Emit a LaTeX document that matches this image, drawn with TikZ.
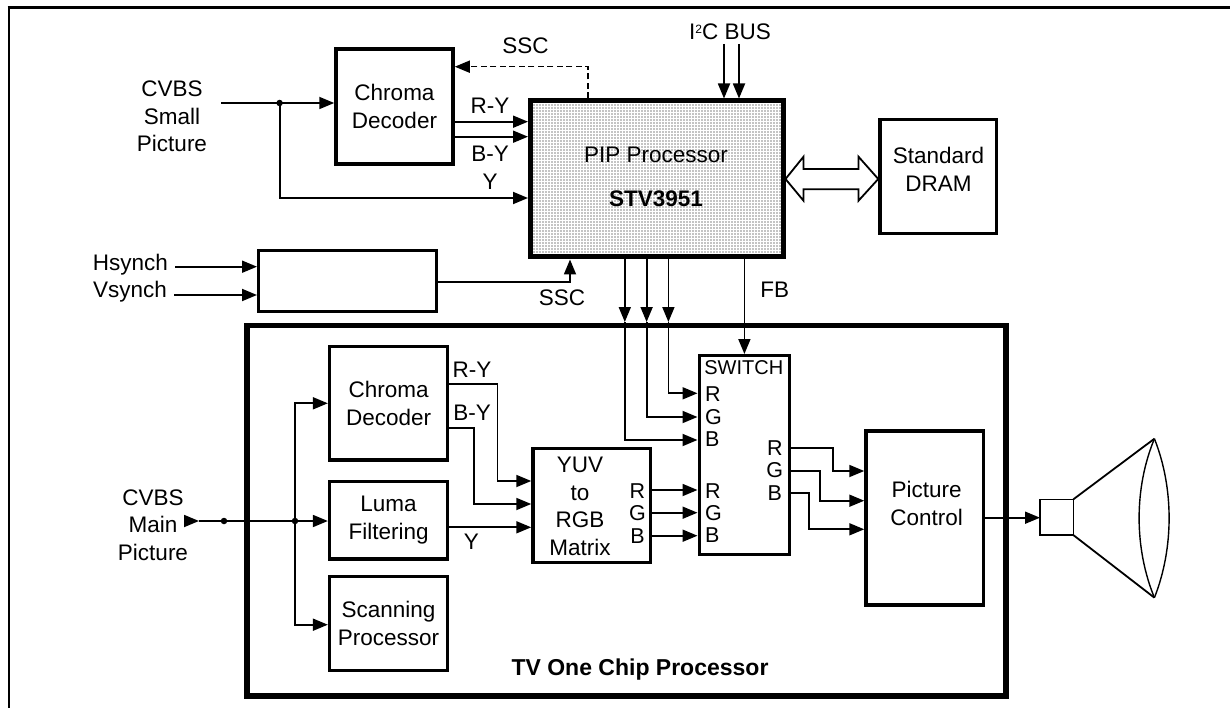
\documentclass[tikz,border=0pt]{standalone}
\usepackage{fontspec}
\setmainfont{Liberation Sans}
\usetikzlibrary{arrows.meta,patterns.meta}
\tikzset{
  x=1pt,y=-1pt,
  txt/.style={font=\fontsize{22.5}{27.5}\selectfont,align=center,inner sep=0pt,text=black},
  pin/.style={font=\fontsize{21.5}{26}\selectfont,inner sep=0pt},
  swpin/.style={pin,anchor=west},
  blk/.style={draw=black,line width=3.5pt,fill=white,inner sep=0pt,
     font=\fontsize{22.5}{27.5}\selectfont,align=center},
  heavy/.style={blk,line width=5.5pt,fill=none},
  wire/.style={draw=black,line width=1.8pt},
  arr/.style={wire,-{Triangle[length=15pt,width=12pt]}},
  jdot/.style={circle,fill=black,draw=none,inner sep=0pt,minimum size=6.5pt},
  frameline/.style={draw=black},
  dashwire/.style={draw=black,line width=1.6pt,dash pattern=on 6pt off 3.5pt,-{Triangle[length=15pt,width=12pt]}},
}
\begin{document}
\begin{tikzpicture}
\useasboundingbox (0,0) rectangle (1230,708);
\fill[white] (0,0) rectangle (1230,708);
% outer frame (open on right and bottom)
\draw[frameline,line width=3pt] (7.5,7.5) -- (1230,7.5);
\draw[frameline,line width=2pt] (9,7.5) -- (9,708);

% TV frame
\node[heavy,minimum width=759pt,minimum height=370.5pt] (tv) at (626.5,510.75) {};
\node[txt,font=\bfseries\fontsize{23}{27}\selectfont] (tvT) at (640,669.3) {TV One Chip Processor};

% top blocks
\node[blk,minimum width=117pt,minimum height=115pt] (cs) at (394.5,106.5) {Chroma\\Decoder};
\node[draw=black,line width=5pt,inner sep=0pt,minimum width=252.5pt,minimum height=156pt,
      postaction={pattern={Dots[distance=3pt,radius=.55pt]},pattern color=black},
      fill=white] (pip) at (656.75,179) {};
\node[txt,font=\fontsize{22.5}{44}\selectfont] (pipT) at (656,177) {PIP Processor\\\textbf{STV3951}};
\node[blk,minimum width=116.5pt,minimum height=114pt] (dram) at (938.25,176.5) {};
\node[txt] (dramT) at (938.5,169.5) {Standard\\DRAM};
\node[blk,line width=3pt,minimum width=178pt,minimum height=61pt] (sync) at (347.5,281.3) {};

% inner blocks
\node[blk,minimum width=118pt,minimum height=113.5pt] (cm) at (388.6,403.4) {Chroma\\Decoder};
\node[blk,minimum width=118pt,minimum height=77.5pt] (luma) at (388.6,520.3) {Luma\\Filtering};
\node[blk,minimum width=118pt,minimum height=94pt] (scan) at (388.6,623.6) {Scanning\\Processor};
\node[blk,minimum width=117.5pt,minimum height=114pt] (yuv) at (591.75,505.5) {};
\node[txt] (yuvT) at (580,506.3) {YUV\\to\\RGB\\Matrix};
\node[blk,line width=3pt,minimum width=90.5pt,minimum height=199pt] (sw) at (744.25,455) {};
\node[blk,minimum width=117.5pt,minimum height=174pt] (pc) at (924.75,518) {};
\node[txt] (pcT) at (926.6,503.6) {Picture\\Control};

% outer labels
\node[txt] (cvs) at (172,116.5) {CVBS\\Small\\Picture};
\node[txt] (cvm) at (153,525) {CVBS\\Main\\Picture};
\node[txt] (hs) at (130.5,265) {Hsynch};
\node[txt] (vs) at (130,291.7) {Vsynch};
\node[txt] (i2c) at (730,32) {I\raisebox{6.5pt}{\fontsize{12}{12}\selectfont 2}C BUS};
\node[txt] (sscT) at (525.5,46) {SSC};
\node[txt] (sscB) at (562,297.7) {SSC};
\node[txt] (fb) at (774.7,290) {FB};
\node[txt] (ry1) at (490,106) {R-Y};
\node[txt] (by1) at (490,154) {B-Y};
\node[txt] (y1) at (490,182) {Y};
\node[txt] (ry2) at (472,370) {R-Y};
\node[txt] (by2) at (472,413) {B-Y};
\node[txt] (y2) at (471.4,542) {Y};

% pin labels
\node[pin] (yr) at (637.5,491) {R};
\node[pin] (yg) at (637.5,513) {G};
\node[pin] (yb) at (637.5,536) {B};
\node[txt,font=\fontsize{20}{24}\selectfont] (swT) at (743.8,367.7) {SWITCH};
\node[swpin] (s1) at (705,394) {R};
\node[swpin] (s2) at (705,417) {G};
\node[swpin] (s3) at (705,439) {B};
\node[swpin] (s4) at (705,490.7) {R};
\node[swpin] (s5) at (705,513) {G};
\node[swpin] (s6) at (705,535) {B};
\node[pin] (so1) at (774.8,448.3) {R};
\node[pin] (so2) at (774.8,470) {G};
\node[pin] (so3) at (774.8,493) {B};

% small-picture wires
\coordinate (csIn) at (221,103);
\node[jdot] (d1) at (279.6,103) {};
\draw[arr] (csIn) -- (cs.west |- csIn);
\draw[arr] (d1) |- (pip.west |- 0,198);
\draw[arr] (cs.east |- 0,121.7) -- (pip.west |- 0,121.7);
\draw[arr] (cs.east |- 0,136.7) -- (pip.west |- 0,136.7);
\draw[dashwire] (pip.north -| 588,0) |- (cs.east |- 0,66.7);
\draw[arr] (724,44) -- (pip.north -| 724,0);
\draw[arr] (739,44) -- (pip.north -| 739,0);

% double arrow
\coordinate (da) at (pip.east |- 0,179);
\coordinate (db) at (dram.west |- 0,179);
\draw[draw=black,line width=1.8pt,fill=white,line join=miter]
  (da) -- (803.5,156.7) -- (803.5,169) -- (858.5,169) -- (858.5,156.7) -- (db)
  -- (858.5,200.7) -- (858.5,189.3) -- (803.5,189.3) -- (803.5,200.7) -- cycle;

% sync
\coordinate (hIn) at (175,266.7);
\coordinate (vIn) at (174,295);
\draw[arr] (hIn) -- (sync.west |- hIn);
\draw[arr] (vIn) -- (sync.west |- vIn);
\draw[arr] (sync.east |- 0,281.7) -| (pip.south -| 570,0);

% PIP to switch
\draw[arr] (pip.south -| 624.8,0) -- (624.8,322);
\draw[arr] (pip.south -| 646.6,0) -- (646.6,322);
\draw[arr] (pip.south -| 668.4,0) -- (668.4,322);
\draw[arr] (624.8,322) |- (sw.west |- 0,440);
\draw[arr] (646.6,322) |- (sw.west |- 0,417);
\draw[arr] (668.4,322) |- (sw.west |- 0,393.3);
\draw[arr] (pip.south -| 744.4,0) -- (sw.north -| 744.4,0);

% main-picture wires
\coordinate (mIn) at (184,521);
\coordinate (mTip) at (199,521);
\node[jdot] (d2) at (224,521) {};
\node[jdot] (d3) at (295,521) {};
\draw[arr] (mIn) -- (mTip);
\draw[wire] (mTip) -- (d3);
\draw[arr] (d3) -- (luma.west |- d3);
\draw[arr] (d3) |- (cm.west |- 0,403.3);
\draw[arr] (d3) |- (scan.west |- 0,624.7);
\draw[arr] (cm.east |- 0,384.3) -- (497.5,384.3) |- (yuv.west |- 0,481);
\draw[arr] (cm.east |- 0,427.7) -- (474.3,427.7) |- (yuv.west |- 0,504);
\draw[arr] (luma.east |- 0,527.3) -- (yuv.west |- 0,527.3);
\draw[arr] (yuv.east |- 0,490) -- (sw.west |- 0,490);
\draw[arr] (yuv.east |- 0,512.7) -- (sw.west |- 0,512.7);
\draw[arr] (yuv.east |- 0,535.7) -- (sw.west |- 0,535.7);
\draw[arr] (sw.east |- 0,447.7) -- (833,447.7) |- (pc.west |- 0,471);
\draw[arr] (sw.east |- 0,470.7) -- (820,470.7) |- (pc.west |- 0,500.7);
\draw[arr] (sw.east |- 0,492.7) -- (809,492.7) |- (pc.west |- 0,529.3);

% picture tube
\node[draw=black,line width=1.6pt,minimum width=33.3pt,minimum height=35.7pt,inner sep=0pt,outer sep=0pt] (neck) at (1056.65,517.2) {};
\draw[arr] (pc.east |- 0,517.7) -- (neck.west |- 0,517.7);
\coordinate (tT) at (1154.4,438.7);
\coordinate (tB) at (1154.4,597.7);
\draw[wire] (neck.north east) -- (tT);
\draw[wire] (neck.south east) -- (tB);
\draw[wire,line width=1.4pt] (tT) .. controls (1134,488) and (1134,548) .. (tB);
\draw[wire,line width=1.4pt] (tT) .. controls (1174,488) and (1174,548) .. (tB);
\end{tikzpicture}
\end{document}
